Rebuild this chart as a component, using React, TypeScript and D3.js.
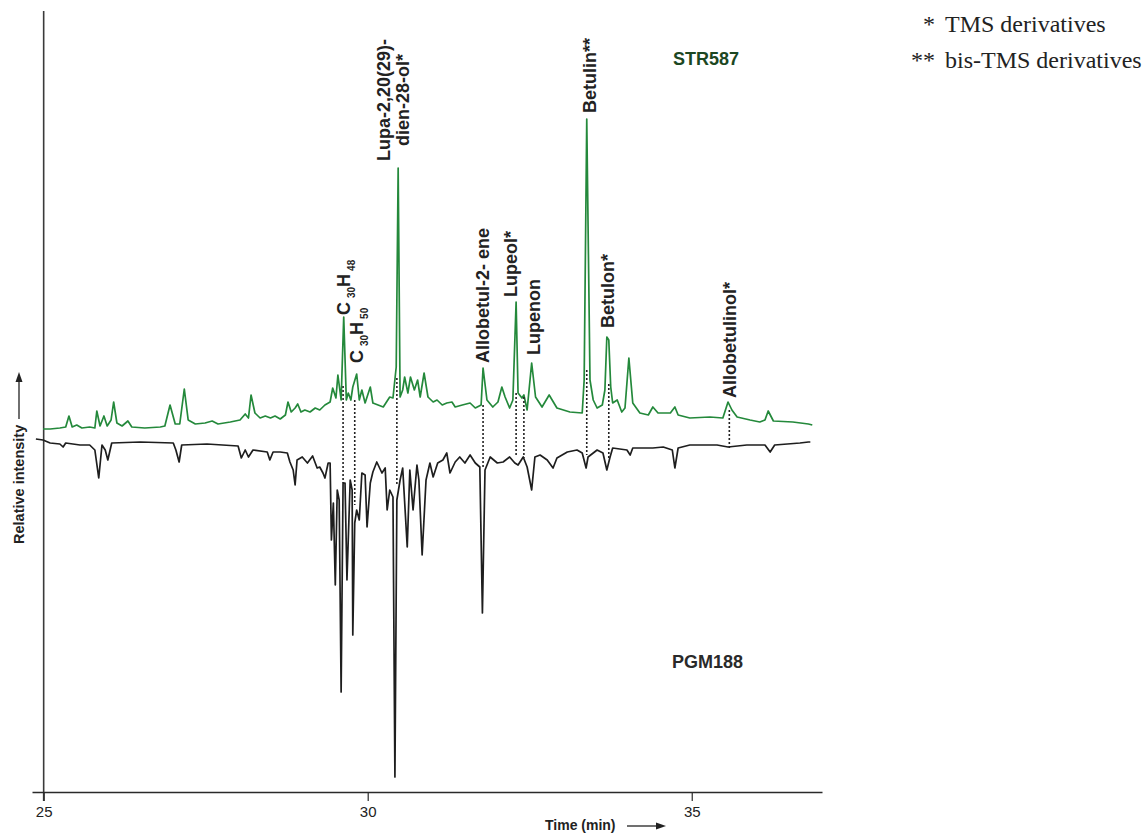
import React from 'react';
import * as d3 from 'd3';

const WIDTH = 1143;
const HEIGHT = 834;

// STR587 (upper, green) trace: [time (min), relative intensity]
const str587: [number, number][] = [
  [24.99, 11], [25.10, 11], [25.25, 12], [25.34, 13], [25.39, 24], [25.44, 13], [25.51, 15], [25.59, 12],
  [25.71, 13], [25.79, 12], [25.82, 29], [25.87, 14], [25.93, 24], [25.98, 14], [26.04, 20], [26.08, 38],
  [26.13, 17], [26.21, 14], [26.30, 19], [26.36, 13], [26.56, 12], [26.80, 13], [26.87, 14], [26.95, 35],
  [27.03, 16], [27.10, 16], [27.17, 51], [27.23, 20], [27.34, 16], [27.49, 17], [27.60, 19], [27.69, 16],
  [27.88, 18], [28.03, 20], [28.11, 26], [28.16, 22], [28.20, 45], [28.26, 27], [28.34, 22], [28.42, 24],
  [28.50, 22], [28.57, 24], [28.65, 21], [28.73, 25], [28.77, 38], [28.82, 28], [28.88, 32], [28.92, 36],
  [28.97, 28], [29.03, 30], [29.11, 28], [29.19, 32], [29.26, 30], [29.34, 35], [29.42, 38], [29.46, 52],
  [29.51, 42], [29.54, 65], [29.59, 40], [29.63, 123], [29.67, 40], [29.70, 47], [29.74, 40], [29.77, 53],
  [29.83, 66], [29.87, 40], [29.91, 50], [29.96, 37], [30.04, 53], [30.08, 37], [30.16, 35], [30.24, 33],
  [30.34, 43], [30.39, 42], [30.44, 73], [30.47, 272], [30.50, 43], [30.54, 50], [30.57, 63], [30.62, 47],
  [30.66, 63], [30.72, 50], [30.77, 60], [30.81, 43], [30.87, 67], [30.93, 43], [31.01, 38], [31.07, 40],
  [31.15, 35], [31.22, 37], [31.30, 38], [31.35, 33], [31.46, 35], [31.58, 37], [31.66, 32], [31.75, 35],
  [31.78, 72], [31.84, 40], [31.93, 33], [32.01, 38], [32.07, 53], [32.12, 43], [32.19, 32], [32.24, 40],
  [32.29, 138], [32.32, 47], [32.38, 42], [32.41, 45], [32.46, 30], [32.53, 77], [32.59, 43], [32.69, 33],
  [32.80, 45], [32.92, 32], [33.12, 28], [33.31, 27], [33.34, 60], [33.38, 321], [33.43, 60], [33.48, 40],
  [33.54, 32], [33.62, 35], [33.66, 50], [33.69, 103], [33.72, 100], [33.75, 53], [33.78, 37], [33.85, 40],
  [33.92, 28], [33.97, 32], [34.03, 82], [34.09, 37], [34.20, 27], [34.33, 25], [34.40, 33], [34.48, 27],
  [34.67, 27], [34.74, 33], [34.79, 25], [34.97, 22], [35.28, 23], [35.48, 22], [35.56, 38], [35.62, 30],
  [35.70, 23], [35.90, 20], [36.05, 18], [36.13, 20], [36.18, 29], [36.26, 19], [36.56, 18], [36.80, 16],
  [36.86, 15],
];

// PGM188 (lower, black, inverted) trace: [time (min), relative intensity]
const pgm188: [number, number][] = [
  [24.88, 1], [24.99, 0], [25.10, -3], [25.25, -4], [25.30, -7], [25.34, -3], [25.56, -5], [25.71, -5],
  [25.79, -10], [25.85, -38], [25.90, -5], [25.95, -10], [25.99, -20], [26.05, -3], [26.49, -2], [27.00, -3],
  [27.04, -10], [27.09, -22], [27.13, -5], [27.52, -4], [28.00, -6], [28.05, -18], [28.11, -10], [28.16, -17],
  [28.23, -10], [28.45, -12], [28.49, -20], [28.54, -12], [28.65, -12], [28.76, -13], [28.80, -22], [28.85, -30],
  [28.88, -45], [28.91, -20], [28.99, -17], [29.07, -23], [29.15, -16], [29.22, -28], [29.26, -27], [29.31, -33],
  [29.34, -38], [29.39, -23], [29.42, -23], [29.44, -100], [29.47, -63], [29.50, -145], [29.53, -50], [29.56, -60],
  [29.59, -252], [29.62, -43], [29.65, -43], [29.68, -140], [29.73, -40], [29.76, -50], [29.77, -195], [29.80, -83],
  [29.83, -70], [29.87, -80], [29.91, -33], [29.96, -35], [29.99, -87], [30.04, -43], [30.08, -32], [30.14, -22],
  [30.22, -33], [30.27, -28], [30.30, -70], [30.34, -50], [30.39, -57], [30.42, -337], [30.45, -60], [30.50, -40],
  [30.54, -28], [30.61, -107], [30.65, -30], [30.70, -70], [30.76, -25], [30.79, -40], [30.84, -115], [30.90, -40],
  [30.96, -23], [31.01, -37], [31.08, -23], [31.16, -20], [31.22, -13], [31.27, -33], [31.35, -22], [31.42, -17],
  [31.50, -23], [31.58, -15], [31.66, -23], [31.73, -27], [31.77, -173], [31.81, -30], [31.89, -17], [32.00, -23],
  [32.09, -22], [32.19, -17], [32.27, -23], [32.32, -25], [32.40, -17], [32.46, -27], [32.53, -50], [32.58, -17],
  [32.66, -15], [32.77, -20], [32.86, -28], [32.92, -18], [33.08, -12], [33.23, -10], [33.31, -13], [33.37, -28],
  [33.40, -17], [33.54, -10], [33.63, -13], [33.69, -30], [33.74, -17], [33.78, -8], [34.00, -10], [34.05, -15],
  [34.09, -8], [34.40, -8], [34.56, -7], [34.70, -10], [34.74, -28], [34.79, -8], [34.97, -5], [35.39, -5],
  [35.56, -7], [35.85, -5], [36.13, -5], [36.21, -12], [36.28, -5], [36.67, -3], [36.80, -2], [36.83, -2],
];

const xTicks = [25, 30, 35];

// dotted lines joining matched peaks: [time, top (STR587), bottom (PGM188)]
const matches: [number, number, number][] = [
  [29.62, 54, -43], [29.80, 40, -65], [30.45, 62, -45], [31.78, 35, -27], [32.29, 47, -17],
  [32.41, 43, -18], [33.38, 70, -15], [33.72, 56, -20], [35.58, 30, -8],
];

// compound names, with the time and the intensity where the label starts
const compoundNames = ['Allobetul-2- ene', 'Lupeol*', 'Lupenon', 'Betulin**', 'Betulon*', 'Allobetulinol*'];
const compoundTimes = [31.78, 32.21, 32.56, 33.43, 33.70, 35.59];
const compoundLevels = [77, 143, 85, 327, 112, 42];

// hydrocarbon formulas: [C count, H count, time, level]
const formulas: [string, string, number, number][] = [
  ['30', '48', 29.63, 125],
  ['30', '50', 29.83, 77],
];

const lupaLines = ['Lupa-2,20(29)-', 'dien-28-ol*'];
const lupaTime = 30.39;
const lupaLevel = 340;

const App = () => {
  const ref = React.useRef<SVGSVGElement>(null);

  React.useEffect(() => {
    const svg = d3.select(ref.current);
    svg.selectAll('*').remove();

    const x = d3.scaleLinear().domain([24.82, 37.01]).range([32, 822]);
    const y = d3.scaleLinear().domain([-360, 430]).range([800, 10]);
    const axisY = 792;
    const sans = '"Liberation Sans", Arial, Helvetica, sans-serif';

    // y axis line
    svg.append('line')
      .attr('x1', x(25)).attr('x2', x(25))
      .attr('y1', 11).attr('y2', axisY + 9)
      .attr('stroke', '#3a3a3a').attr('stroke-width', 1.6);

    // x axis
    const gx = svg.append('g')
      .attr('transform', `translate(0,${axisY})`)
      .call(d3.axisBottom(x).tickValues(xTicks).tickSize(9).tickSizeOuter(0).tickFormat(d3.format('d')));
    gx.select('.domain').attr('stroke', '#2a2a2a').attr('stroke-width', 1.5);
    gx.selectAll('.tick line').attr('stroke', '#2a2a2a').attr('stroke-width', 1.2);
    gx.selectAll('.tick text')
      .attr('fill', '#222')
      .attr('y', 14)
      .style('font-family', sans)
      .style('font-size', '15px');

    // traces
    const line = d3.line<[number, number]>().x(d => x(d[0])).y(d => y(d[1]));
    svg.append('path')
      .attr('d', line(pgm188))
      .attr('fill', 'none').attr('stroke', '#1e1e1e').attr('stroke-width', 1.7)
      .attr('stroke-linejoin', 'round');
    svg.append('path')
      .attr('d', line(str587))
      .attr('fill', 'none').attr('stroke', '#24893b').attr('stroke-width', 1.7)
      .attr('stroke-linejoin', 'round');

    // dotted match lines
    svg.append('g')
      .selectAll('line')
      .data(matches)
      .join('line')
      .attr('x1', d => x(d[0])).attr('x2', d => x(d[0]))
      .attr('y1', d => y(d[1])).attr('y2', d => y(d[2]))
      .attr('stroke', '#222').attr('stroke-width', 1.6)
      .attr('stroke-dasharray', '2,2');

    // peak labels
    const labels = svg.append('g')
      .style('font-family', sans)
      .style('font-weight', 'bold')
      .style('font-size', '18px')
      .attr('fill', '#222');

    labels.selectAll('text.compound')
      .data(compoundNames)
      .join('text')
      .attr('class', 'compound')
      .attr('transform', (d, i) => `translate(${x(compoundTimes[i])},${y(compoundLevels[i])}) rotate(-90)`)
      .attr('dy', '0.35em')
      .text(d => d);

    formulas.forEach(([c, h, t, v]) => {
      const txt = labels.append('text')
        .attr('transform', `translate(${x(t)},${y(v)}) rotate(-90)`)
        .attr('dy', '0.35em');
      txt.append('tspan').text('C');
      txt.append('tspan').attr('dx', 4).attr('dy', 5).style('font-size', '10px').text(c);
      txt.append('tspan').attr('dy', -5).text('H');
      txt.append('tspan').attr('dx', 3).attr('dy', 5).style('font-size', '10px').text(h);
    });

    const lupa = labels.append('text')
      .attr('transform', `translate(${x(lupaTime)},${y(lupaLevel)}) rotate(-90)`)
      .attr('text-anchor', 'middle');
    lupa.selectAll('tspan')
      .data(lupaLines)
      .join('tspan')
      .attr('x', 0)
      .attr('y', (d, i) => (i - 0.5) * 19)
      .attr('dy', '0.35em')
      .text(d => d);

    // sample names
    svg.append('text')
      .attr('x', 673).attr('y', 65)
      .style('font-family', sans).style('font-weight', 'bold').style('font-size', '18px')
      .attr('fill', '#1c4722')
      .text('STR587');
    svg.append('text')
      .attr('x', 672).attr('y', 668)
      .style('font-family', sans).style('font-weight', 'bold').style('font-size', '18px')
      .attr('fill', '#2a2a2a')
      .text('PGM188');

    // axis titles with arrows
    svg.append('text')
      .attr('transform', 'translate(19,544) rotate(-90)')
      .attr('dy', '0.35em')
      .style('font-family', sans).style('font-weight', 'bold').style('font-size', '14.5px')
      .attr('fill', '#222')
      .text('Relative intensity');
    svg.append('line')
      .attr('x1', 19).attr('x2', 19).attr('y1', 419).attr('y2', 380)
      .attr('stroke', '#222').attr('stroke-width', 1.3);
    svg.append('path')
      .attr('d', 'M19,372L15.5,382L22.5,382Z')
      .attr('fill', '#222');

    svg.append('text')
      .attr('x', 545).attr('y', 830)
      .style('font-family', sans).style('font-weight', 'bold').style('font-size', '14px')
      .attr('fill', '#222')
      .text('Time (min)');
    svg.append('line')
      .attr('x1', 627).attr('x2', 658).attr('y1', 826).attr('y2', 826)
      .attr('stroke', '#222').attr('stroke-width', 1.3);
    svg.append('path')
      .attr('d', 'M666,826L656,822.5L656,829.5Z')
      .attr('fill', '#222');

    // legend
    const serif = '"Liberation Serif", "Times New Roman", serif';
    const legend = svg.append('g')
      .style('font-family', serif)
      .style('font-size', '24px')
      .attr('fill', '#222');
    legend.append('text').attr('x', 935).attr('y', 32).attr('text-anchor', 'end').text('*');
    legend.append('text').attr('x', 945).attr('y', 32).text('TMS derivatives');
    legend.append('text').attr('x', 935).attr('y', 68).attr('text-anchor', 'end').text('**');
    legend.append('text').attr('x', 945).attr('y', 68).text('bis-TMS derivatives');
  }, []);

  return (
    <svg
      ref={ref}
      width={WIDTH}
      height={HEIGHT}
      style={{ position: 'absolute', left: 0, top: 0, display: 'block', background: '#fff' }}
    />
  );
};

export default App;
